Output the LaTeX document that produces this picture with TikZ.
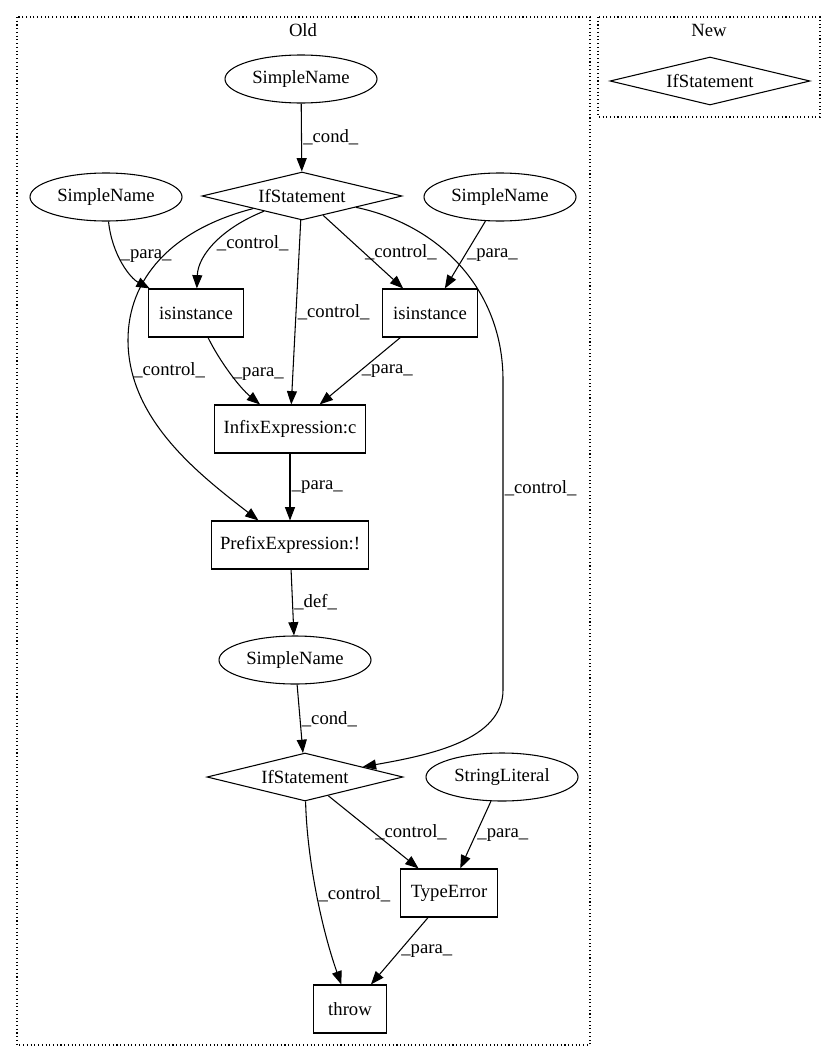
\documentclass[tikz,border=0pt]{standalone}
\usepackage{fontspec}
\setmainfont{Liberation Serif}
\usetikzlibrary{shapes.geometric,arrows.meta}
\begin{document}
\begin{tikzpicture}[x=0.75pt, y=-0.75pt, font=\fontsize{14}{16}\selectfont, line width=0.8pt,
    >={Triangle[length=10pt,width=7.5pt]},
    box/.style={draw, rectangle, minimum height=36pt, inner sep=0pt},
    ell/.style={draw, ellipse, minimum width=114pt, minimum height=36pt, inner sep=0pt},
    dia/.style={draw, diamond, shape aspect=4.17, minimum width=150pt, minimum height=36pt, inner sep=0pt},
    lbl/.style={inner sep=1pt},
    clus/.style={draw, dotted}]
  \useasboundingbox (0,0) rectangle (835,1060);
  % clusters
  \draw[clus] (17,17) rectangle (590,1045);
  \draw[clus] (598,17) rectangle (820,117);
  \node (old) at (303,30) {Old};
  \node (new) at (709,30) {New};
  \node[dia] (ifN) at (710,81) {IfStatement};
  % old graph
  \node[ell] (snTop) at (301,79) {SimpleName};
  \node[dia] (if1) at (302,196) {IfStatement};
  \node[ell] (snL) at (106,197) {SimpleName};
  \node[ell] (snR) at (500,197) {SimpleName};
  \node[box, minimum width=71pt] (isL) at (196,313) {isinstance};
  \node[box, minimum width=71pt] (isR) at (430,313) {isinstance};
  \node[box, minimum width=113pt] (infix) at (290,429) {InfixExpression:c};
  \node[box, minimum width=118pt] (prefix) at (290,545) {PrefixExpression:!};
  \node[ell] (snMid) at (295,660) {SimpleName};
  \node[dia, minimum width=147pt] (if2) at (305,777) {IfStatement};
  \node[ell] (strLit) at (502,777) {StringLiteral};
  \node[box, minimum width=73pt] (typeErr) at (449,893) {TypeError};
  \node[box, minimum width=55pt] (throw) at (350,1009) {throw};
  % edges
  \draw[->] (snTop) -- node[lbl,right]{\_cond\_} (if1);
  \draw[->] (snL) .. controls (112,255) and (130,278) .. (isL) node[lbl,pos=0.4,right]{\_para\_};
  \draw[->] (if1) .. controls (222,228) and (198,255) .. (isL) node[lbl,midway,right]{\_control\_};
  \draw[->] (if1) -- node[lbl,right]{\_control\_} (infix);
  \draw[->] (if1) -- node[lbl,right]{\_control\_} (isR);
  \draw[->] (snR) -- node[lbl,right]{\_para\_} (isR);
  \draw[->] (if1) .. controls (170,230) and (128,280) .. (128,340)
    .. controls (128,420) and (200,475) .. (prefix) node[lbl,pos=0.13,right]{\_control\_};
  \draw[->] (if1) .. controls (440,225) and (503,290) .. (503,380)
    -- node[lbl,pos=0.35,right]{\_control\_} (503,690) .. controls (503,740) and (430,755) .. (if2);
  \draw[->] (isL) .. controls (220,362) and (240,388) .. (infix) node[lbl,midway,right]{\_para\_};
  \draw[->] (isR) -- node[lbl,right]{\_para\_} (infix);
  \draw[->] (infix) -- node[lbl,right]{\_para\_} (prefix);
  \draw[->] (prefix) -- node[lbl,right]{\_def\_} (snMid);
  \draw[->] (snMid) -- node[lbl,right]{\_cond\_} (if2);
  \draw[->] (if2) -- node[lbl,right]{\_control\_} (typeErr);
  \draw[->] (strLit) -- node[lbl,right]{\_para\_} (typeErr);
  \draw[->] (if2) .. controls (307,860) and (322,930) .. (throw) node[lbl,midway,right]{\_control\_};
  \draw[->] (typeErr) -- node[lbl,right]{\_para\_} (throw);
\end{tikzpicture}
\end{document}
